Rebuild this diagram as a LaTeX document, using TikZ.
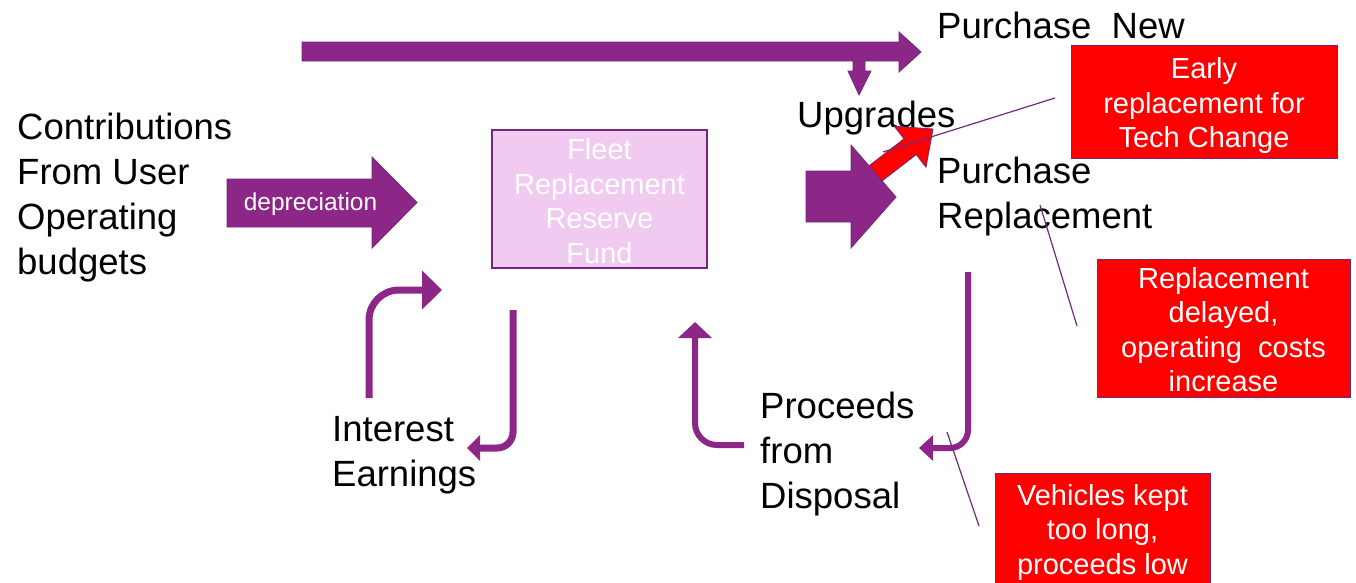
\documentclass[tikz,border=0pt]{standalone}
\usepackage{fontspec}
\setmainfont{Liberation Sans}
\usetikzlibrary{arrows.meta}
\definecolor{purp}{RGB}{140,38,135}
\definecolor{purpline}{RGB}{115,40,125}
\definecolor{pinkfill}{RGB}{240,202,240}
\definecolor{boxred}{RGB}{255,0,0}
\begin{document}
\begin{tikzpicture}[x=1pt,y=-1pt,
  lbl/.style={font=\fontsize{36.5}{45}\selectfont, align=left, anchor=north west, inner sep=0pt, text=black},
  redbox/.style={draw=purpline, line width=1pt, fill=boxred, inner sep=0pt},
  boxtext/.style={text=white, font=\fontsize{29}{34.5}\selectfont, align=center, inner sep=0pt},
  fundbox/.style={draw=purpline, line width=1.2pt, fill=pinkfill, inner sep=0pt},
  callout/.style={draw=purpline, line width=1.2pt},
  blockarrow/.style={fill=purp, draw=purpline, line width=0.8pt},
  redarrow/.style={fill=boxred, draw=purpline, line width=0.8pt},
  curv/.style={draw=purp, line width=7pt},
  curvthin/.style={draw=purp, line width=6pt}
]
\clip (0,0) rectangle (1356,582);

% text labels
\node[lbl] (contrib) at (17,113) {Contributions\\From User\\Operating\\budgets};
\node[lbl] (pnew) at (937,12) {Purchase\ \ New};
\node[lbl] (upg) at (797,101) {Upgrades};
\node[lbl] (prep) at (937,157) {Purchase\\Replacement};
\node[lbl] (interest) at (332,416) {Interest\\Earnings};
\node[lbl] (proceeds) at (760,392) {Proceeds\\from\\Disposal};

% central fund
\node[fundbox, minimum width=215pt, minimum height=138pt] (fund) at (599.5,199) {};
\node[boxtext] (fundtxt) at ([yshift=-2pt]fund.center) {Fleet\\Replacement\\Reserve\\Fund};

% red boxes
\node[redbox, minimum width=266pt, minimum height=113pt] (early) at (1204,101.5) {};
\node[boxtext] (earlytxt) at ([yshift=-4pt]early.center) {Early\\replacement for\\Tech Change};
\node[redbox, minimum width=253pt, minimum height=138pt] (delay) at (1223.5,328) {};
\node[boxtext] (delaytxt) at ([yshift=-1.5pt]delay.center) {Replacement\\delayed,\\operating\ \ costs\\increase};
\node[redbox, minimum width=215pt, minimum height=118pt] (kept) at (1102.5,532) {};
\node[boxtext] (kepttxt) at ([yshift=0pt]kept.center) {Vehicles kept\\too long,\\proceeds low};

% small down arrow to Upgrades
\path[blockarrow] (853,58) -- (865,58) -- (865,71) -- (871,71) -- (859,95) -- (848,71) -- (853,71) -- cycle;
% top arrow to Purchase New
\path[blockarrow] (302,42) -- (899,42) -- (899,32) -- (921,52) -- (899,72) -- (899,61) -- (302,61) -- cycle;

% depreciation arrow
\path[blockarrow] (227,179) -- (372,179) -- (372,157) -- (417,202.5) -- (372,248) -- (372,227) -- (227,227) -- cycle;
\node[font=\fontsize{24.5}{28}\selectfont, text=white, inner sep=0pt] (dep) at (310.5,204) {depreciation};

% red arrow towards Upgrades
\path[redarrow] (856.6,175.4) -- (904,138.8) -- (894.2,126.2) -- (933,129) -- (926,167.2) -- (916.2,154.6) -- (868.8,191.2) -- cycle;
% big arrow to Purchase Replacement
\path[blockarrow] (806,171) -- (851,171) -- (851,145) -- (896,197) -- (851,248) -- (851,222) -- (806,222) -- cycle;

% curved arrows
\coordinate (i1s) at (369,398);
\coordinate (i1c) at (369,290);
\coordinate (i1e) at (442,290);
\draw[curv, rounded corners=30pt, -{Triangle[width=38pt,length=20pt]}] (i1s) -- (i1c) -- (i1e);

\coordinate (i2s) at (513,310);
\coordinate (i2c) at (513,448);
\coordinate (i2e) at (467,448);
\draw[curv, rounded corners=16pt, -{Triangle[width=25pt,length=13pt]}] (i2s) -- (i2c) -- (i2e);

\coordinate (p1s) at (744,445);
\coordinate (p1c) at (695,445);
\coordinate (p1e) at (695,322);
\draw[curvthin, rounded corners=22pt, -{Triangle[width=33pt,length=16pt]}] (p1s) -- (p1c) -- (p1e);

\coordinate (p2s) at (968,272);
\coordinate (p2c) at (968,448);
\coordinate (p2e) at (919,448);
\draw[curvthin, rounded corners=18pt, -{Triangle[width=25pt,length=14pt]}] (p2s) -- (p2c) -- (p2e);

% callout lines
\coordinate (c1a) at (1055,98);
\coordinate (c1b) at (883,152);
\draw[callout] (c1a) -- (c1b);
\coordinate (c2a) at (1040,205);
\coordinate (c2b) at (1077,326);
\draw[callout] (c2a) -- (c2b);
\coordinate (c3a) at (947,432);
\coordinate (c3b) at (979,526);
\draw[callout] (c3a) -- (c3b);
\end{tikzpicture}
\end{document}
